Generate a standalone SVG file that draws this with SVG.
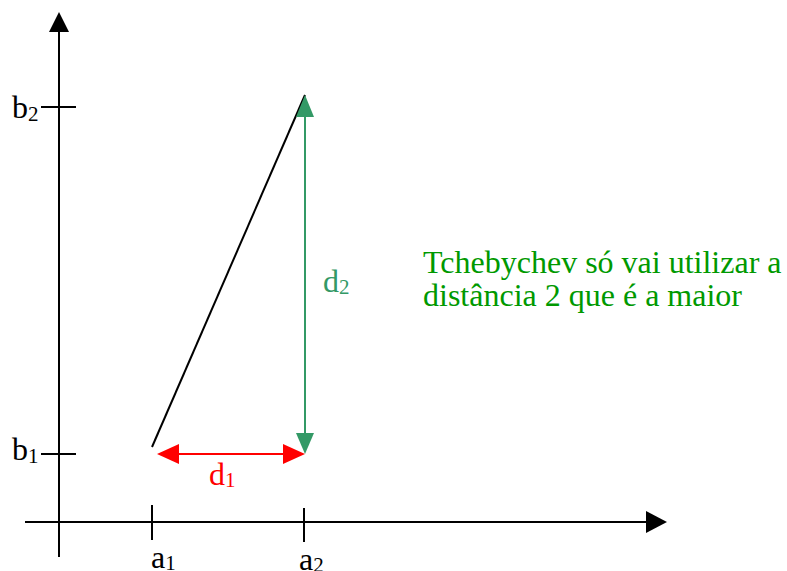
<svg xmlns="http://www.w3.org/2000/svg" width="787" height="571" viewBox="0 0 787 571">
<style>
.ax{stroke:#000;stroke-width:2;fill:none}
</style>
<rect width="787" height="571" fill="#fff"/>
<g id="axes">
<line class="ax" x1="59" y1="30" x2="59" y2="557"/>
<polygon points="59,12 49,32 69,32" fill="#000"/>
<line class="ax" x1="25" y1="522" x2="648" y2="522"/>
<polygon points="667,522 646,511 646,533" fill="#000"/>
<line class="ax" x1="41" y1="107" x2="76" y2="107"/>
<line class="ax" x1="41" y1="454" x2="76" y2="454"/>
<line class="ax" x1="152" y1="505" x2="152" y2="540"/>
<line class="ax" x1="304" y1="508" x2="304" y2="542"/>
</g>
<g id="labels" font-family="Liberation Serif, serif" font-size="32">
<text x="12" y="118">b<tspan font-size="21" dy="3">2</tspan></text>
<text x="12" y="460">b<tspan font-size="21" dy="3">1</tspan></text>
<text x="151" y="568">a<tspan font-size="21" dy="2">1</tspan></text>
<text x="299" y="570">a<tspan font-size="21" dy="2">2</tspan></text>
</g>
<g id="connectors">
<line x1="152" y1="447" x2="305" y2="95" stroke="#000" stroke-width="2"/>
<g id="d2-arrow">
<line x1="305" y1="112" x2="305" y2="437" stroke="#339966" stroke-width="2"/>
<polygon points="305,95 296,117 314,117" fill="#339966"/>
<polygon points="305,454 296,433 314,433" fill="#339966"/>
</g>
<g id="d1-arrow">
<line x1="175" y1="454" x2="287" y2="454" stroke="#ff0000" stroke-width="2"/>
<polygon points="157,454 179,444 179,464" fill="#ff0000"/>
<polygon points="305,454 283,444 283,464" fill="#ff0000"/>
</g>
</g>
<g id="d1-label" fill="#ff0000" font-family="Liberation Serif, serif" font-size="32">
<text x="209" y="485">d<tspan font-size="21" dy="2">1</tspan></text>
</g>
<g id="d2-label" fill="#339966" font-family="Liberation Serif, serif" font-size="32">
<text x="323" y="292">d<tspan font-size="21" dy="2">2</tspan></text>
</g>
<g id="note" fill="#009900" font-family="Liberation Serif, serif" font-size="32">
<text x="423" y="273">Tchebychev só vai utilizar a</text>
<text x="423" y="306">distância 2 que é a maior</text>
</g>
</svg>
